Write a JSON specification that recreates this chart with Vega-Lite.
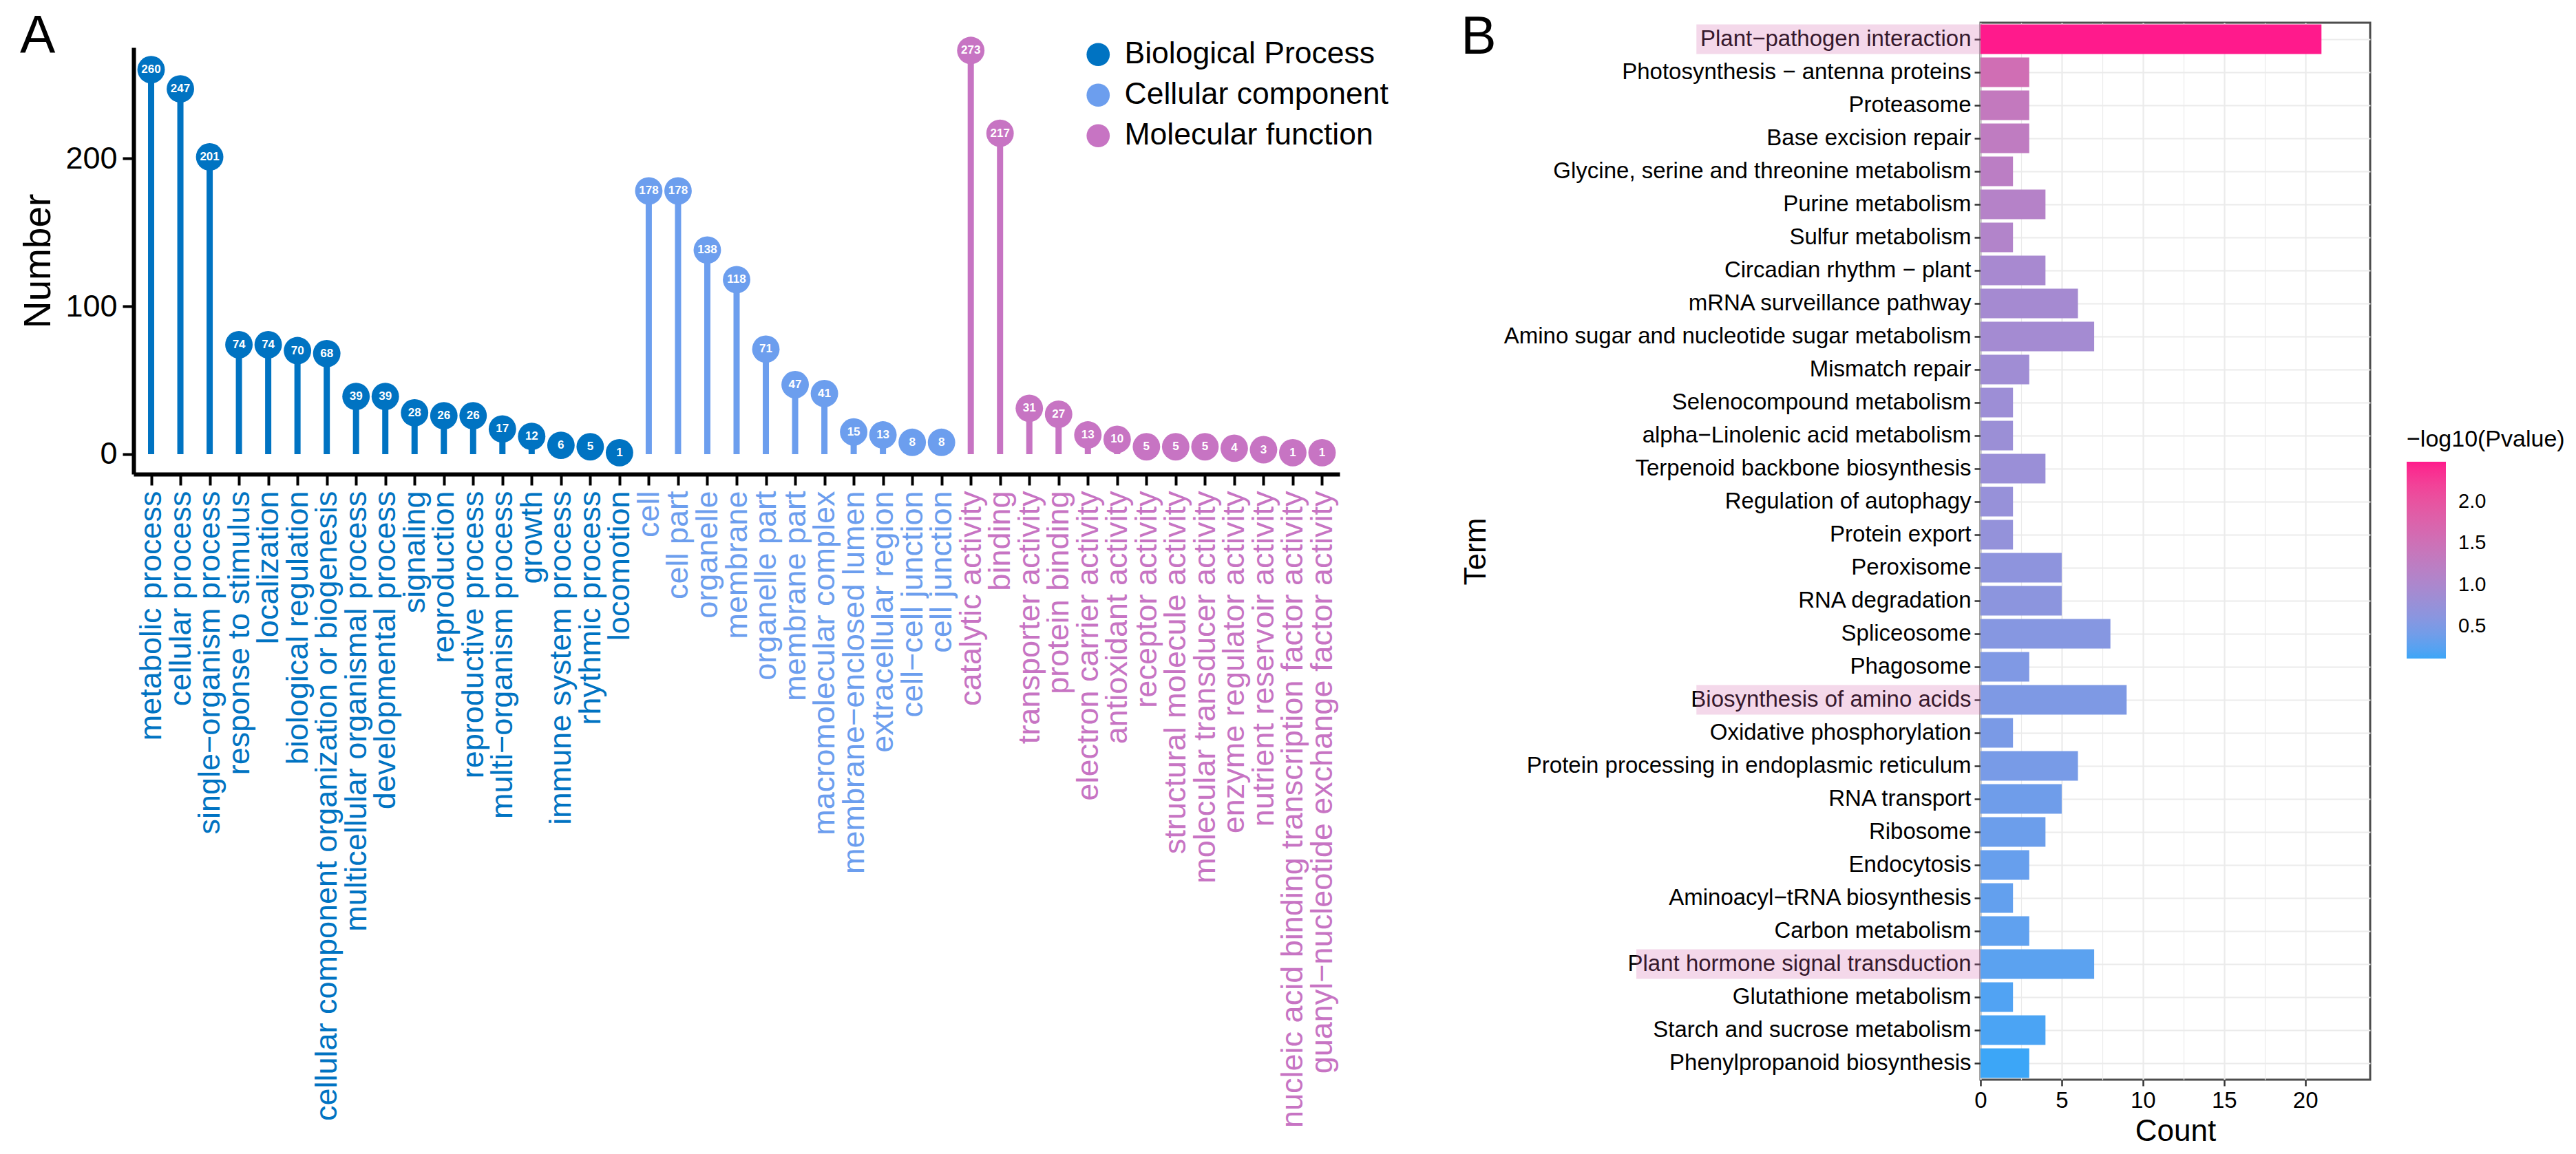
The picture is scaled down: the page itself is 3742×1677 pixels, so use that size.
{
  "$schema": "https://vega.github.io/schema/vega-lite/v6.json",
  "padding": {"left": 28, "top": 14, "right": 5, "bottom": 3},
  "spacing": 103,
  "config": {
    "font": "Liberation Sans",
    "view": {"stroke": null},
    "axis": {"labelFont": "Liberation Sans", "titleFont": "Liberation Sans", "titleFontWeight": "normal"},
    "legend": {"labelFont": "Liberation Sans", "titleFont": "Liberation Sans", "titleFontWeight": "normal"},
    "title": {"font": "Liberation Sans", "fontSize": 77, "fontWeight": "normal", "anchor": "start", "frame": "bounds", "color": "black"}
  },
  "hconcat": [
    {
      "title": {"text": "A", "offset": -65},
      "spacing": 14,
      "vconcat": [
        {"width": 1, "height": 1, "data": {"values": [{}]}, "mark": {"type": "text", "text": ""}},
        {
          "width": 1752,
          "height": 620,
          "data": {"values": [
            {"term": "metabolic process", "n": 260, "group": "Biological Process"},
            {"term": "cellular process", "n": 247, "group": "Biological Process"},
            {"term": "single−organism process", "n": 201, "group": "Biological Process"},
            {"term": "response to stimulus", "n": 74, "group": "Biological Process"},
            {"term": "localization", "n": 74, "group": "Biological Process"},
            {"term": "biological regulation", "n": 70, "group": "Biological Process"},
            {"term": "cellular component organization or biogenesis", "n": 68, "group": "Biological Process"},
            {"term": "multicellular organismal process", "n": 39, "group": "Biological Process"},
            {"term": "developmental process", "n": 39, "group": "Biological Process"},
            {"term": "signaling", "n": 28, "group": "Biological Process"},
            {"term": "reproduction", "n": 26, "group": "Biological Process"},
            {"term": "reproductive process", "n": 26, "group": "Biological Process"},
            {"term": "multi−organism process", "n": 17, "group": "Biological Process"},
            {"term": "growth", "n": 12, "group": "Biological Process"},
            {"term": "immune system process", "n": 6, "group": "Biological Process"},
            {"term": "rhythmic process", "n": 5, "group": "Biological Process"},
            {"term": "locomotion", "n": 1, "group": "Biological Process"},
            {"term": "cell", "n": 178, "group": "Cellular component"},
            {"term": "cell part", "n": 178, "group": "Cellular component"},
            {"term": "organelle", "n": 138, "group": "Cellular component"},
            {"term": "membrane", "n": 118, "group": "Cellular component"},
            {"term": "organelle part", "n": 71, "group": "Cellular component"},
            {"term": "membrane part", "n": 47, "group": "Cellular component"},
            {"term": "macromolecular complex", "n": 41, "group": "Cellular component"},
            {"term": "membrane−enclosed lumen", "n": 15, "group": "Cellular component"},
            {"term": "extracellular region", "n": 13, "group": "Cellular component"},
            {"term": "cell−cell junction", "n": 8, "group": "Cellular component"},
            {"term": "cell junction", "n": 8, "group": "Cellular component"},
            {"term": "catalytic activity", "n": 273, "group": "Molecular function"},
            {"term": "binding", "n": 217, "group": "Molecular function"},
            {"term": "transporter activity", "n": 31, "group": "Molecular function"},
            {"term": "protein binding", "n": 27, "group": "Molecular function"},
            {"term": "electron carrier activity", "n": 13, "group": "Molecular function"},
            {"term": "antioxidant activity", "n": 10, "group": "Molecular function"},
            {"term": "receptor activity", "n": 5, "group": "Molecular function"},
            {"term": "structural molecule activity", "n": 5, "group": "Molecular function"},
            {"term": "molecular transducer activity", "n": 5, "group": "Molecular function"},
            {"term": "enzyme regulator activity", "n": 4, "group": "Molecular function"},
            {"term": "nutrient reservoir activity", "n": 3, "group": "Molecular function"},
            {"term": "nucleic acid binding transcription factor activity", "n": 1, "group": "Molecular function"},
            {"term": "guanyl−nucleotide exchange factor activity", "n": 1, "group": "Molecular function"}
          ]},
          "encoding": {
            "x": {
              "field": "term", "type": "nominal", "sort": null,
              "scale": {"type": "point", "padding": 0.6},
              "axis": {
                "title": null, "labelAngle": 270, "labelFontSize": 45, "labelPadding": 8, "labelLimit": 2000,
                "tickSize": 16, "tickWidth": 4, "tickColor": "black", "domainColor": "black", "domainWidth": 6, "grid": false,
                "labelColor": {
                  "condition": [
                    {"test": "datum.value === 'cell' || datum.value === 'cell part' || datum.value === 'organelle' || datum.value === 'membrane' || datum.value === 'organelle part' || datum.value === 'membrane part' || datum.value === 'macromolecular complex' || datum.value === 'membrane−enclosed lumen' || datum.value === 'extracellular region' || datum.value === 'cell−cell junction' || datum.value === 'cell junction'", "value": "#6C9EEE"},
                    {"test": "datum.value === 'catalytic activity' || datum.value === 'binding' || datum.value === 'transporter activity' || datum.value === 'protein binding' || datum.value === 'electron carrier activity' || datum.value === 'antioxidant activity' || datum.value === 'receptor activity' || datum.value === 'structural molecule activity' || datum.value === 'molecular transducer activity' || datum.value === 'enzyme regulator activity' || datum.value === 'nutrient reservoir activity' || datum.value === 'nucleic acid binding transcription factor activity' || datum.value === 'guanyl−nucleotide exchange factor activity'", "value": "#C774C3"}
                  ],
                  "value": "#0073C2"
                }
              }
            },
            "y": {
              "field": "n", "type": "quantitative",
              "scale": {"domain": [-13.5, 275]},
              "axis": {
                "title": "Number", "values": [0, 100, 200], "grid": false,
                "labelFontSize": 45, "titleFontSize": 55, "titlePadding": 10, "labelPadding": 8,
                "tickSize": 16, "tickWidth": 4, "tickColor": "black", "domainColor": "black", "domainWidth": 6,
                "labelColor": "black", "titleColor": "black"
              }
            },
            "color": {
              "field": "group", "type": "nominal",
              "scale": {"domain": ["Biological Process", "Cellular component", "Molecular function"], "range": ["#0073C2", "#6C9EEE", "#C774C3"]},
              "legend": {
                "title": null, "orient": "none", "legendX": 1379, "legendY": 24,
                "symbolSize": 1134, "symbolType": "circle", "labelFontSize": 44.5, "labelOffset": 16,
                "rowPadding": 14, "padding": 0, "labelColor": "black", "symbolStrokeWidth": 0,
                "symbolOpacity": 1, "labelLimit": 1000
              }
            }
          },
          "layer": [
            {
              "mark": {"type": "rule", "strokeWidth": 9},
              "encoding": {"y2": {"datum": 0}}
            },
            {
              "mark": {"type": "point", "filled": true, "shape": "circle", "size": 1590, "opacity": 1}
            },
            {
              "mark": {"type": "text", "fontWeight": "bold", "fontSize": 17, "align": "center", "baseline": "middle"},
              "encoding": {"text": {"field": "n", "type": "quantitative"}, "color": {"value": "white"}}
            }
          ]
        }
      ]
    },
    {
      "width": 566,
      "height": 1536,
      "title": {"text": "B", "offset": -61},
      "view": {"stroke": "#4D4D4D", "strokeWidth": 3},
      "data": {"values": [
        {"Term": "Plant−pathogen interaction", "Count": 21, "P": 2.48, "hl": true},
        {"Term": "Photosynthesis − antenna proteins", "Count": 3, "P": 1.55, "hl": false},
        {"Term": "Proteasome", "Count": 3, "P": 1.33, "hl": false},
        {"Term": "Base excision repair", "Count": 3, "P": 1.27, "hl": false},
        {"Term": "Glycine, serine and threonine metabolism", "Count": 2, "P": 1.21, "hl": false},
        {"Term": "Purine metabolism", "Count": 4, "P": 1.12, "hl": false},
        {"Term": "Sulfur metabolism", "Count": 2, "P": 1.08, "hl": false},
        {"Term": "Circadian rhythm − plant", "Count": 4, "P": 0.95, "hl": false},
        {"Term": "mRNA surveillance pathway", "Count": 6, "P": 0.92, "hl": false},
        {"Term": "Amino sugar and nucleotide sugar metabolism", "Count": 7, "P": 0.9, "hl": false},
        {"Term": "Mismatch repair", "Count": 3, "P": 0.85, "hl": false},
        {"Term": "Selenocompound metabolism", "Count": 2, "P": 0.82, "hl": false},
        {"Term": "alpha−Linolenic acid metabolism", "Count": 2, "P": 0.8, "hl": false},
        {"Term": "Terpenoid backbone biosynthesis", "Count": 4, "P": 0.78, "hl": false},
        {"Term": "Regulation of autophagy", "Count": 2, "P": 0.75, "hl": false},
        {"Term": "Protein export", "Count": 2, "P": 0.72, "hl": false},
        {"Term": "Peroxisome", "Count": 5, "P": 0.65, "hl": false},
        {"Term": "RNA degradation", "Count": 5, "P": 0.63, "hl": false},
        {"Term": "Spliceosome", "Count": 8, "P": 0.58, "hl": false},
        {"Term": "Phagosome", "Count": 3, "P": 0.52, "hl": false},
        {"Term": "Biosynthesis of amino acids", "Count": 9, "P": 0.5, "hl": true},
        {"Term": "Oxidative phosphorylation", "Count": 2, "P": 0.47, "hl": false},
        {"Term": "Protein processing in endoplasmic reticulum", "Count": 6, "P": 0.45, "hl": false},
        {"Term": "RNA transport", "Count": 5, "P": 0.38, "hl": false},
        {"Term": "Ribosome", "Count": 4, "P": 0.36, "hl": false},
        {"Term": "Endocytosis", "Count": 3, "P": 0.33, "hl": false},
        {"Term": "Aminoacyl−tRNA biosynthesis", "Count": 2, "P": 0.3, "hl": false},
        {"Term": "Carbon metabolism", "Count": 3, "P": 0.28, "hl": false},
        {"Term": "Plant hormone signal transduction", "Count": 7, "P": 0.25, "hl": true},
        {"Term": "Glutathione metabolism", "Count": 2, "P": 0.2, "hl": false},
        {"Term": "Starch and sucrose metabolism", "Count": 4, "P": 0.17, "hl": false},
        {"Term": "Phenylpropanoid biosynthesis", "Count": 3, "P": 0.11, "hl": false}
      ]},
      "encoding": {
        "y": {
          "field": "Term", "type": "nominal", "sort": null,
          "scale": {"paddingInner": 0.1, "paddingOuter": 0.05},
          "axis": {
            "title": "Term", "titleFontSize": 44, "titlePadding": 18, "labelFontSize": 33,
            "labelColor": "black", "titleColor": "black", "labelLimit": 2000, "maxExtent": 1500,
            "tickSize": 9, "tickWidth": 2.5, "tickColor": "#333333", "domain": false,
            "grid": true, "gridColor": "#EBEBEB", "gridWidth": 2.2, "labelPadding": 5
          }
        }
      },
      "layer": [
        {
          "mark": {"type": "bar"},
          "encoding": {
            "x": {
              "field": "Count", "type": "quantitative",
              "scale": {"domain": [0, 22.05]},
              "axis": {
                "title": "Count", "values": [0, 2.5, 5, 7.5, 10, 12.5, 15, 17.5, 20],
                "labelExpr": "datum.value % 5 === 0 ? datum.label : ''",
                "tickOpacity": {"condition": {"test": "datum.value % 5 !== 0", "value": 0}, "value": 1},
                "gridWidth": {"condition": {"test": "datum.value % 5 !== 0", "value": 1.2}, "value": 2.2},
                "gridColor": "#EBEBEB", "grid": true, "domain": false, "labelFlush": false,
                "labelFontSize": 33, "titleFontSize": 44, "tickSize": 9, "tickWidth": 2.5,
                "tickColor": "#333333", "labelColor": "black", "titleColor": "black",
                "labelPadding": 5, "titlePadding": 6
              }
            },
            "color": {
              "field": "P", "type": "quantitative",
              "scale": {"range": ["#3CA6F7", "#FF1A8C"], "interpolate": "lab", "nice": false, "zero": false},
              "legend": {
                "title": "−log10(Pvalue)", "orient": "none", "legendX": 619, "legendY": 589,
                "direction": "vertical", "gradientLength": 286, "gradientThickness": 57,
                "titleFontSize": 34, "labelFontSize": 29, "labelOffset": 18,
                "values": [0.5, 1, 1.5, 2], "format": ".1f", "titlePadding": 15, "padding": 0,
                "gradientStrokeWidth": 0, "titleColor": "black", "labelColor": "black",
                "titleLimit": 1000, "labelOverlap": false
              }
            }
          }
        },
        {
          "transform": [{"filter": "datum.hl && datum.Term !== 'Plant hormone signal transduction'"}],
          "mark": {"type": "bar", "fill": "#D264AA", "opacity": 0.25},
          "encoding": {"x": {"datum": -17.5}, "x2": {"datum": 0}}
        },
        {
          "transform": [{"filter": "datum.Term === 'Plant hormone signal transduction'"}],
          "mark": {"type": "bar", "fill": "#D264AA", "opacity": 0.25},
          "encoding": {"x": {"datum": -21.2}, "x2": {"datum": 0}}
        }
      ]
    }
  ]
}
